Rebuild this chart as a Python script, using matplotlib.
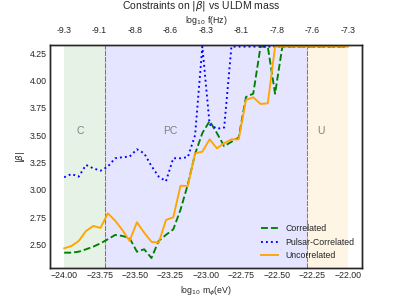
import numpy as np
import matplotlib
matplotlib.use("Agg")
import matplotlib.pyplot as plt

plt.rcParams['font.family'] = ['Liberation Sans', 'DejaVu Sans']
plt.rcParams['text.color'] = '0.15'
plt.rcParams['axes.labelcolor'] = '0.15'
plt.rcParams['xtick.color'] = '0.15'
plt.rcParams['ytick.color'] = '0.15'

# mass grid, log10 m_phi (eV)
log_m = np.linspace(-24.0, -22.0, 40)

beta_corr = [2.427, 2.427, 2.436, 2.458, 2.482, 2.513, 2.549, 2.589, 2.58, 2.56,
             2.436, 2.458, 2.378, 2.535, 2.59, 2.64, 2.82, 3.05, 3.33, 3.52,
             3.63, 3.52, 3.40, 3.44, 3.48, 3.85, 3.88, 4.31, 4.31, 3.88,
             4.31, 4.31, 4.31, 4.31, 4.31, 4.31, 4.31, 4.31, 4.31, 4.31]

beta_psr = [3.116, 3.146, 3.122, 3.229, 3.198, 3.176, 3.213, 3.29, 3.299, 3.305,
            3.372, 3.335, 3.219, 3.122, 3.08, 3.29, 3.29, 3.30, 3.50, 4.31,
            3.60, 3.56, 3.57, 4.31, 4.31, 4.31, 4.31, 4.31, 4.31, 4.31,
            4.31, 4.31, 4.31, 4.31, 4.31, 4.31, 4.31, 4.31, 4.31, 4.31]

beta_unc = [2.467, 2.488, 2.534, 2.625, 2.671, 2.653, 2.787, 2.72, 2.634, 2.534,
            2.705, 2.61, 2.527, 2.518, 2.726, 2.75, 3.039, 3.037, 3.335, 3.35,
            3.463, 3.381, 3.427, 3.463, 3.463, 3.823, 3.847, 3.786, 3.792, 4.31,
            4.31, 4.31, 4.31, 4.31, 4.31, 4.31, 4.31, 4.31, 4.31, 4.31]

# region boundaries
m_lo, m_c, m_u, m_hi = -24.0, -23.71, -22.285, -22.0

bottom_ticks = [-24.0, -23.75, -23.5, -23.25, -23.0, -22.75, -22.5, -22.25, -22.0]
top_labels = ['-9.3', '-9.1', '-8.8', '-8.6', '-8.3', '-8.1', '-7.8', '-7.6', '-7.3']
y_ticks = [2.50, 2.75, 3.00, 3.25, 3.50, 3.75, 4.00, 4.25]

fig = plt.figure(figsize=(4.02, 3.02), dpi=100)
ax = fig.add_axes([0.1244, 0.1126, 0.776, 0.7384])

ax.axvspan(m_lo, m_c, color='green', alpha=0.1, lw=0)
ax.axvspan(m_c, m_u, color='blue', alpha=0.1, lw=0)
ax.axvspan(m_u, m_hi, color='orange', alpha=0.1, lw=0)
ax.axvline(m_c, color='red', ls=(0, (5, 1)), lw=0.75, alpha=0.7)
ax.axvline(m_u, color='red', ls=(0, (5, 1)), lw=0.75, alpha=0.7)

ax.plot(log_m, beta_corr, color='green', ls='--', lw=1.35, label='Correlated')
ax.plot(log_m, beta_psr, color='blue', ls=':', lw=1.35, label='Pulsar-Correlated')
ax.plot(log_m, beta_unc, color='orange', ls='-', lw=1.35, label='Uncorrelated')

ax.text(-23.89, 3.54, 'C', color='gray', fontsize=7.5, ha='center', va='center')
ax.text(-23.25, 3.54, 'PC', color='gray', fontsize=7.5, ha='center', va='center')
ax.text(-22.19, 3.54, 'U', color='gray', fontsize=7.5, ha='center', va='center')

ax.set_xlim(-24.1, -21.9)
ax.set_ylim(2.287, 4.325)
ax.set_xticks(bottom_ticks)
ax.set_yticks(y_ticks)
ax.tick_params(length=0, labelsize=6.3, pad=2.5)
ax.set_xlabel(r'log$_{10}$ m$_{\phi}$(eV)', fontsize=6.3, labelpad=3)
ax.set_ylabel(r'$|\beta|$', fontsize=6.3, labelpad=1.5)

ax.legend(loc='lower right', frameon=False, fontsize=6.3)

ax2 = ax.twiny()
ax2.set_xlim(ax.get_xlim())
ax2.set_xticks(bottom_ticks)
ax2.set_xticklabels(top_labels)
ax2.tick_params(length=0, labelsize=6.3, pad=7.5)
ax2.set_xlabel(r'log$_{10}$ f(Hz)', fontsize=6.3, labelpad=2.2)

for a in (ax, ax2):
    for s in a.spines.values():
        s.set_color('0.15')
        s.set_linewidth(1.0)

fig.text(0.5, 1 - 6 / 302, r'Constraints on $|\beta|$ vs ULDM mass',
         ha='center', va='center', fontsize=7.5)

fig.savefig('out.png', dpi=100)
